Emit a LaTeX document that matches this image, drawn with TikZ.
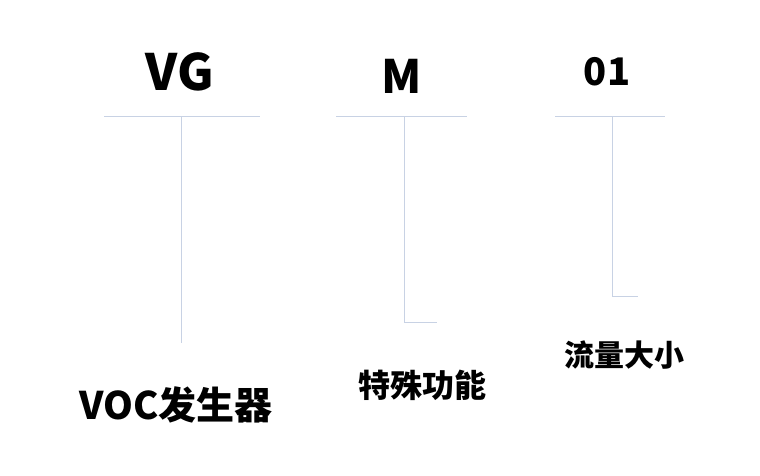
\documentclass[tikz,border=0pt]{standalone}
\usepackage{fontspec}
\newfontfamily\cjk{Noto Sans CJK SC}
\definecolor{leader}{RGB}{200,210,228}
\begin{document}
\begin{tikzpicture}[x=1pt,y=-1pt,
        code/.style={font=\cjk\bfseries\fontsize{#1}{#1}\selectfont, inner sep=0pt},
        leaderline/.style={draw=leader, line width=1pt}
    ]
        \useasboundingbox (0,0) rectangle (760,475);
        % codes
        \node[code=50] (vg) at (180,72) {VG};
        \node[code=46] (m) at (402,76) {M};
        \node[code=38] (n01) at (607,72) {01};
        % leader lines
        \coordinate (vgl) at (104,116); \coordinate (vgr) at (260,116);
        \coordinate (vgt) at (181,116); \coordinate (vgb) at (181,343);
        \coordinate (ml) at (336,116); \coordinate (mr) at (467,116);
        \coordinate (mt) at (404,116); \coordinate (mb) at (404,322); \coordinate (me) at (437,322);
        \coordinate (nl) at (555,116); \coordinate (nr) at (665,116);
        \coordinate (nt) at (612,116); \coordinate (nb) at (612,296); \coordinate (ne) at (638,296);
        \draw[leaderline] (vgl) -- (vgr) (vgt) -- (vgb);
        \draw[leaderline] (ml) -- (mr) (mt) -- (mb) -- (me);
        \draw[leaderline] (nl) -- (nr) (nt) -- (nb) -- (ne);
        % labels
        \node[code=38] (voc) at (176,405) {VOC发生器};
        \node[code=32] (tszn) at (422,385) {特殊功能};
        \node[code=30] (llsx) at (624,355) {流量大小};
    \end{tikzpicture}
\end{document}
